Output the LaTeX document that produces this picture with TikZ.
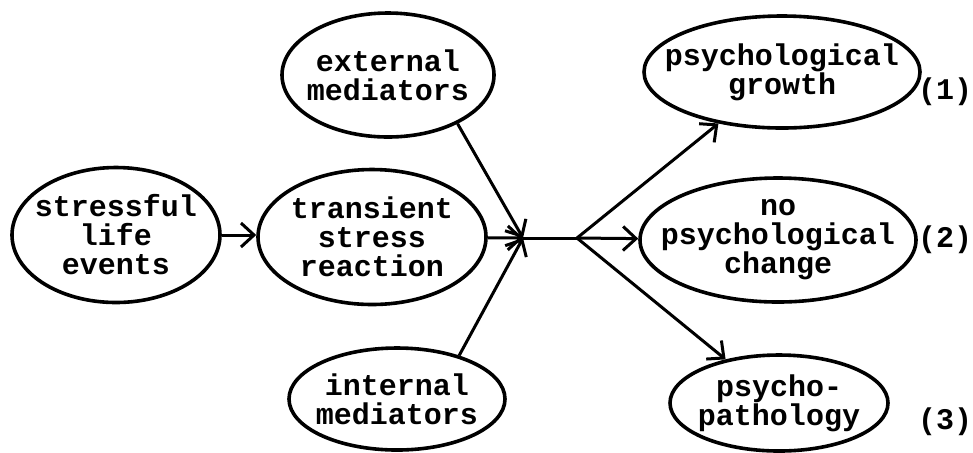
\documentclass[tikz,border=0pt]{standalone}
\usepackage{fontspec}
\newfontfamily\typewriter{Liberation Mono}
\usetikzlibrary{shapes.geometric, arrows.meta}

\tikzset{
  bubble/.style={draw, ellipse, line width=1.8pt, inner xsep=-40pt, inner ysep=-20pt, align=center,
    font=\typewriter\bfseries\fontsize{15}{14.5}\selectfont},
  outcome tag/.style={font=\typewriter\bfseries\fontsize{15}{14.5}\selectfont}
}

\begin{document}
\begin{tikzpicture}[x=0.5pt, y=-0.5pt, line width=1.5pt, >={Straight Barb[length=6.5pt,width=12pt]}]
        \useasboundingbox (0,0) rectangle (973,452);

        % Stress and reaction
        \node[bubble, minimum width=104pt, minimum height=67.5pt] (stressful) at (116,235) {stressful\\life\\events};
        \node[bubble, minimum width=114pt, minimum height=67.5pt] (transient) at (372,237) {transient\\stress\\reaction};

        % Mediators
        \node[bubble, minimum width=106pt, minimum height=62pt] (external) at (388,75) {external\\mediators};
        \node[bubble, minimum width=108pt, minimum height=51pt] (internal) at (397,399) {internal\\mediators};

        % Outcomes
        \node[bubble, minimum width=138pt, minimum height=56pt] (growth) at (782,72) {psychological\\growth};
        \node[bubble, minimum width=138pt, minimum height=62pt] (change) at (778,240) {no\\psychological\\change};
        \node[bubble, minimum width=109pt, minimum height=48pt] (pathology) at (779,403) {psycho-\\pathology};

        % Outcome numbers
        \node[outcome tag] (num1) at (945,92) {(1)};
        \node[outcome tag] (num2) at (945,240) {(2)};
        \node[outcome tag] (num3) at (945,422) {(3)};

        % Junctions
        \coordinate (merge) at (523,238);
        \coordinate (split) at (577,238);

        % Connections
        \draw[->] (stressful.east) -- (stressful.east -| transient.west);
        \draw[->] (transient) -- (merge);
        \draw[->] (external.-35) -- (merge);
        \draw[->] (internal.35) -- (merge);
        \draw (merge) -- (split);
        \draw[->] (split) -- (growth);
        \draw[->] (split) -- (change);
        \draw[->] (split) -- (pathology);
    \end{tikzpicture}
\end{document}
